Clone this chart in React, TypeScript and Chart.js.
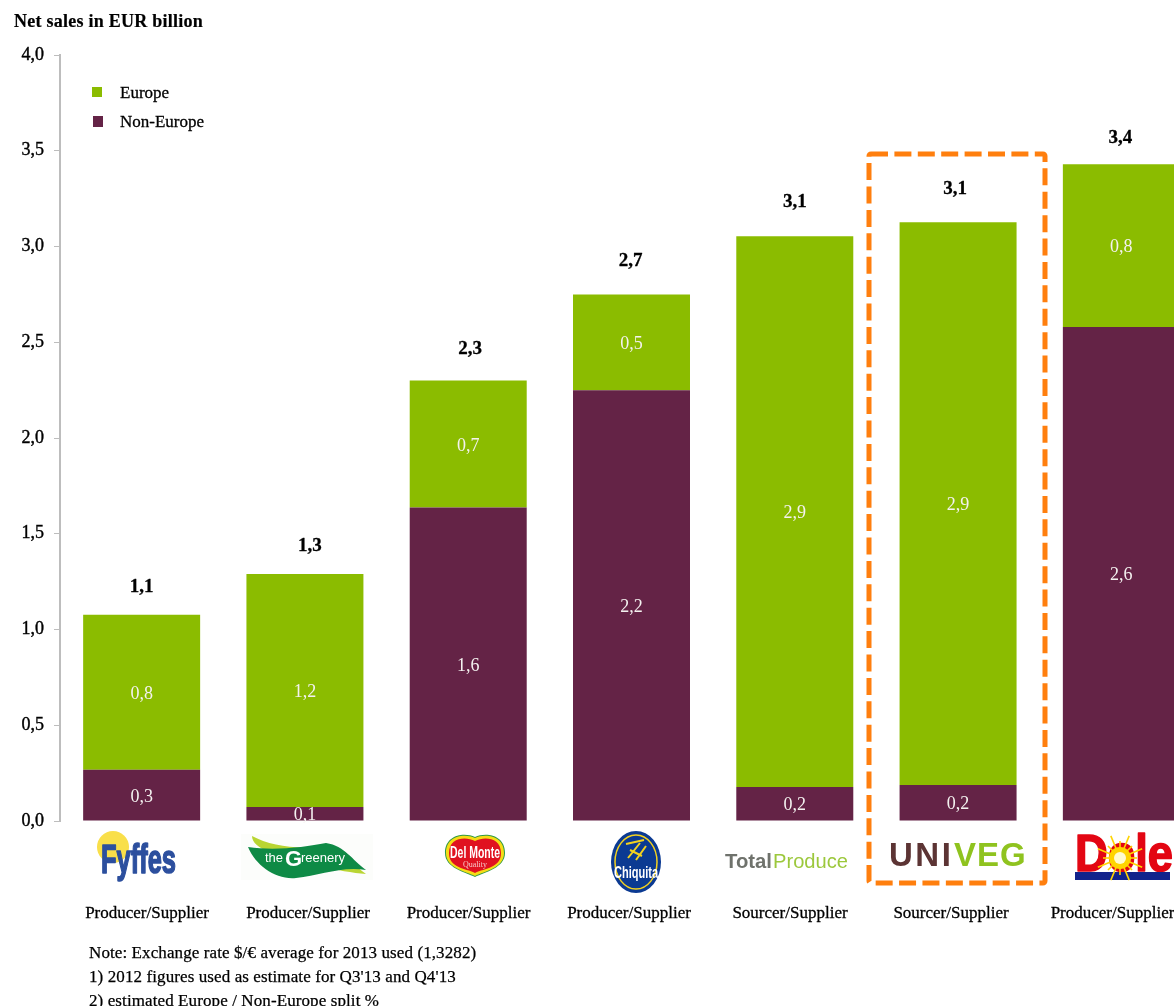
import React, { useEffect, useRef } from "react";
import { Chart, registerables } from "chart.js";

Chart.register(...registerables);

// Net sales in EUR billion per company
const companies = ["Fyffes", "The Greenery", "Del Monte", "Chiquita", "Total Produce", "Univeg", "Dole"];
const roles = [
  "Producer/Supplier",
  "Producer/Supplier",
  "Producer/Supplier",
  "Producer/Supplier",
  "Sourcer/Supplier",
  "Sourcer/Supplier",
  "Producer/Supplier",
];
const nonEurope = [0.267, 0.073, 1.637, 2.249, 0.178, 0.188, 2.58];
const europe = [0.81, 1.217, 0.663, 0.5, 2.876, 2.939, 0.849];
const footnotes = [
  "Note: Exchange rate $/€ average for 2013 used (1,3282)",
  "1) 2012 figures used as estimate for Q3'13 and Q4'13",
  "2) estimated Europe / Non-Europe split %",
];

const GREEN = "#8BBC00";
const PLUM = "#642346";
const SERIF = '"Liberation Serif", serif';
const NARROW = '"Liberation Sans Narrow", "Liberation Sans", sans-serif';
const SANS = '"Liberation Sans", sans-serif';

// Horizontal centres of the role captions; placement of each total relative to its bar
const roleCentres = [147, 308, 468.5, 629, 790, 951, 1112.5];
const totalLift = [29, 29, 33, 35, 35, 34, 27];
const totalShift = [0, 5, 2, -1, 0, -3, -1];

const comma = (v: number) => v.toFixed(1).replace(".", ",");

function text(
  ctx: CanvasRenderingContext2D,
  s: string,
  x: number,
  y: number,
  font: string,
  color: string,
  align: CanvasTextAlign = "left",
  maxWidth?: number,
  spacing = "0px",
  stroke = 0
) {
  ctx.font = font;
  ctx.fillStyle = color;
  ctx.textAlign = align;
  ctx.textBaseline = "alphabetic";
  (ctx as any).letterSpacing = spacing;
  if (maxWidth) ctx.fillText(s, x, y, maxWidth);
  else ctx.fillText(s, x, y);
  if (stroke > 0) {
    ctx.strokeStyle = color;
    ctx.lineWidth = stroke;
    ctx.lineJoin = "round";
    if (maxWidth) ctx.strokeText(s, x, y, maxWidth);
    else ctx.strokeText(s, x, y);
  }
  (ctx as any).letterSpacing = "0px";
}

function drawFyffes(ctx: CanvasRenderingContext2D) {
  ctx.fillStyle = "#F9DF4A";
  ctx.beginPath();
  ctx.arc(113, 847, 16, 0, Math.PI * 2);
  ctx.fill();
  text(ctx, "Fyffes", 101, 873, `bold 41px ${NARROW}`, "#2C4F9E", "left", 75, "0px", 1.6);
}

function drawGreenery(ctx: CanvasRenderingContext2D) {
  ctx.fillStyle = "#FCFDFB";
  ctx.fillRect(241, 834, 132, 46);
  ctx.fillStyle = "#B9D532";
  ctx.beginPath();
  ctx.moveTo(252, 836);
  ctx.bezierCurveTo(270, 846, 300, 850, 322, 846);
  ctx.bezierCurveTo(340, 850, 355, 866, 366, 874);
  ctx.bezierCurveTo(340, 872, 300, 862, 270, 852);
  ctx.bezierCurveTo(258, 848, 252, 842, 252, 836);
  ctx.fill();
  ctx.fillStyle = "#0E8A45";
  ctx.beginPath();
  ctx.moveTo(248, 847);
  ctx.bezierCurveTo(275, 851, 305, 847, 326, 843);
  ctx.bezierCurveTo(345, 846, 352, 860, 366, 870);
  ctx.bezierCurveTo(340, 866, 320, 876, 296, 878);
  ctx.bezierCurveTo(276, 880, 256, 866, 248, 847);
  ctx.fill();
  text(ctx, "the", 265, 862, `13px ${SANS}`, "#FFFFFF");
  text(ctx, "G", 285, 866, `bold 22px ${SANS}`, "#FFFFFF");
  text(ctx, "reenery", 301, 862, `13px ${SANS}`, "#FFFFFF", "left", 46);
}

function drawDelMonte(ctx: CanvasRenderingContext2D) {
  const heart = (grow: number, color: string) => {
    ctx.fillStyle = color;
    ctx.beginPath();
    ctx.moveTo(475, 837 - grow);
    ctx.bezierCurveTo(485, 832 - grow, 505 + grow, 834 - grow, 505 + grow, 853);
    ctx.bezierCurveTo(505 + grow, 868, 485, 872 + grow, 475, 877 + grow);
    ctx.bezierCurveTo(465, 872 + grow, 445 - grow, 868, 445 - grow, 853);
    ctx.bezierCurveTo(445 - grow, 834 - grow, 465, 832 - grow, 475, 837 - grow);
    ctx.fill();
  };
  heart(0, "#2F9A45");
  heart(-1, "#F6DC16");
  heart(-4, "#E01220");
  text(ctx, "Del Monte", 475, 858, `bold 16px ${NARROW}`, "#FFFFFF", "center", 50);
  text(ctx, "Quality", 475, 867, `8px ${SERIF}`, "#F6C8C8", "center");
}

function drawChiquita(ctx: CanvasRenderingContext2D) {
  ctx.fillStyle = "#0B3A92";
  ctx.beginPath();
  ctx.ellipse(636, 862, 25, 31, 0, 0, Math.PI * 2);
  ctx.fill();
  ctx.strokeStyle = "#F4D21F";
  ctx.lineWidth = 1.5;
  ctx.beginPath();
  ctx.ellipse(636, 862, 21, 27, 0, 0, Math.PI * 2);
  ctx.stroke();
  // Stylised figure above the wordmark
  ctx.lineWidth = 2;
  ctx.beginPath();
  ctx.moveTo(628, 858);
  ctx.lineTo(640, 843);
  ctx.moveTo(636, 860);
  ctx.lineTo(646, 846);
  ctx.moveTo(626, 844);
  ctx.lineTo(644, 840);
  ctx.moveTo(630, 850);
  ctx.lineTo(642, 856);
  ctx.stroke();
  text(ctx, "Chiquita", 636, 878, `bold 17px ${NARROW}`, "#FFFFFF", "center", 44);
}

function drawTotalProduce(ctx: CanvasRenderingContext2D) {
  text(ctx, "Total", 725, 868, `bold 21px ${SANS}`, "#6F726C", "left", 47);
  text(ctx, "Produce", 773, 868, `21px ${SANS}`, "#9CC83C", "left", 75);
}

function drawUniveg(ctx: CanvasRenderingContext2D) {
  text(ctx, "UNI", 889, 866, `bold 33px ${SANS}`, "#5C3434", "left", undefined, "2.5px");
  text(ctx, "VEG", 954, 866, `bold 33px ${SANS}`, "#8FC31F", "left", undefined, "1px");
}

function drawDole(ctx: CanvasRenderingContext2D) {
  text(ctx, "Dole", 1075, 871, `bold 52px ${SANS}`, "#E30613", "left", 98, "0px", 1.6);
  ctx.fillStyle = "#12238C";
  ctx.fillRect(1075, 872, 95, 8);
  // Sunburst over the "o"
  ctx.fillStyle = "#FFD400";
  ctx.beginPath();
  ctx.arc(1120, 858, 11, 0, Math.PI * 2);
  ctx.fill();
  ctx.strokeStyle = "#FFD400";
  ctx.lineWidth = 1.6;
  for (let a = 0; a < 16; a++) {
    const t = (a / 16) * Math.PI * 2;
    const r = a % 2 ? 24 : 17;
    ctx.beginPath();
    ctx.moveTo(1120, 858);
    ctx.lineTo(1120 + Math.cos(t) * r, 858 + Math.sin(t) * r);
    ctx.stroke();
  }
  ctx.fillStyle = "#FFFBD0";
  ctx.beginPath();
  ctx.arc(1120, 858, 6, 0, Math.PI * 2);
  ctx.fill();
}

const annotations = {
  id: "annotations",
  afterDatasetsDraw(chart: any) {
    const { ctx } = chart;
    const bottom = chart.getDatasetMeta(0);
    const top = chart.getDatasetMeta(1);
    ctx.save();

    // Segment values inside the stacks
    [bottom, top].forEach((meta: any, d: number) => {
      const values = d === 0 ? nonEurope : europe;
      meta.data.forEach((bar: any, i: number) => {
        const mid = (bar.y + bar.base) / 2;
        text(ctx, comma(values[i]), bar.x, mid + 6.5, `18px ${SERIF}`, "#F4F2F0", "center");
      });
    });

    // Stack totals
    top.data.forEach((bar: any, i: number) => {
      const total = nonEurope[i] + europe[i];
      text(ctx, comma(total), bar.x + totalShift[i], bar.y - totalLift[i] + 6, `bold 19px ${SERIF}`, "#000000", "center", undefined, "0px", 0.3);
    });

    // Highlight frame round the sixth company
    ctx.strokeStyle = "#FF7F0E";
    ctx.lineWidth = 5;
    ctx.setLineDash([17, 6.4]);
    ctx.beginPath();
    ctx.roundRect(869, 154, 176, 729, 2);
    ctx.stroke();
    ctx.setLineDash([]);

    // Axis title and legend
    text(ctx, "Net sales in EUR billion", 14, 27, `bold 18px ${SERIF}`, "#000000", "left", undefined, "0.25px", 0.2);
    ctx.fillStyle = GREEN;
    ctx.fillRect(92, 87, 10, 10);
    ctx.fillStyle = PLUM;
    ctx.fillRect(93, 116, 10, 11);
    text(ctx, "Europe", 120, 98, `17px ${SERIF}`, "#000000", "left", undefined, "0px", 0.3);
    text(ctx, "Non-Europe", 120, 127, `17px ${SERIF}`, "#000000", "left", undefined, "0px", 0.3);

    // Company marks
    drawFyffes(ctx);
    drawGreenery(ctx);
    drawDelMonte(ctx);
    drawChiquita(ctx);
    drawTotalProduce(ctx);
    drawUniveg(ctx);
    drawDole(ctx);

    // Role captions and footnotes
    roles.forEach((role, i) => {
      text(ctx, role, roleCentres[i], 918, `17px ${SERIF}`, "#000000", "center", undefined, "0px", 0.3);
    });
    footnotes.forEach((line, i) => {
      text(ctx, line, 89, 958 + i * 24, `17px ${SERIF}`, "#000000", "left", undefined, "0.1px", 0.25);
    });
    ctx.restore();
  },
};

export default function App() {
  const ref = useRef<HTMLCanvasElement>(null);

  useEffect(() => {
    const chart = new Chart(ref.current!, {
      type: "bar",
      data: {
        labels: companies,
        datasets: [
          { label: "Non-Europe", data: nonEurope, backgroundColor: PLUM, stack: "sales" },
          { label: "Europe", data: europe, backgroundColor: GREEN, stack: "sales" },
        ],
      },
      options: {
        responsive: false,
        animation: false,
        devicePixelRatio: 1,
        layout: { padding: { top: 55, left: 0, right: 0, bottom: 0 } },
        datasets: { bar: { categoryPercentage: 1, barPercentage: 0.7165 } },
        plugins: { legend: { display: false }, title: { display: false }, tooltip: { enabled: false } },
        scales: {
          x: {
            stacked: true,
            grid: { display: false },
            border: { display: false },
            ticks: { display: false },
            afterFit: (scale: any) => {
              scale.height = 185;
            },
          },
          y: {
            stacked: true,
            min: 0,
            max: 4,
            grid: { drawOnChartArea: false, drawTicks: true, tickLength: 6, color: "#BDBDBD", lineWidth: 1 },
            border: { color: "#BDBDBD", width: 2 },
            ticks: {
              stepSize: 0.5,
              padding: 10,
              color: "#000000",
              textStrokeColor: "#000000",
              textStrokeWidth: 0.4,
              font: { family: "Liberation Serif", size: 18 },
              callback: (v: any) => comma(Number(v)),
            },
            afterFit: (scale: any) => {
              scale.width = 60;
            },
          },
        },
      } as any,
      plugins: [annotations],
    });
    return () => chart.destroy();
  }, []);

  return (
    <div style={{ position: "fixed", left: 0, top: 0, width: 1174, height: 1006, overflow: "hidden", background: "#FFFFFF" }}>
      <canvas ref={ref} width={1203} height={1006} style={{ display: "block" }} />
    </div>
  );
}
